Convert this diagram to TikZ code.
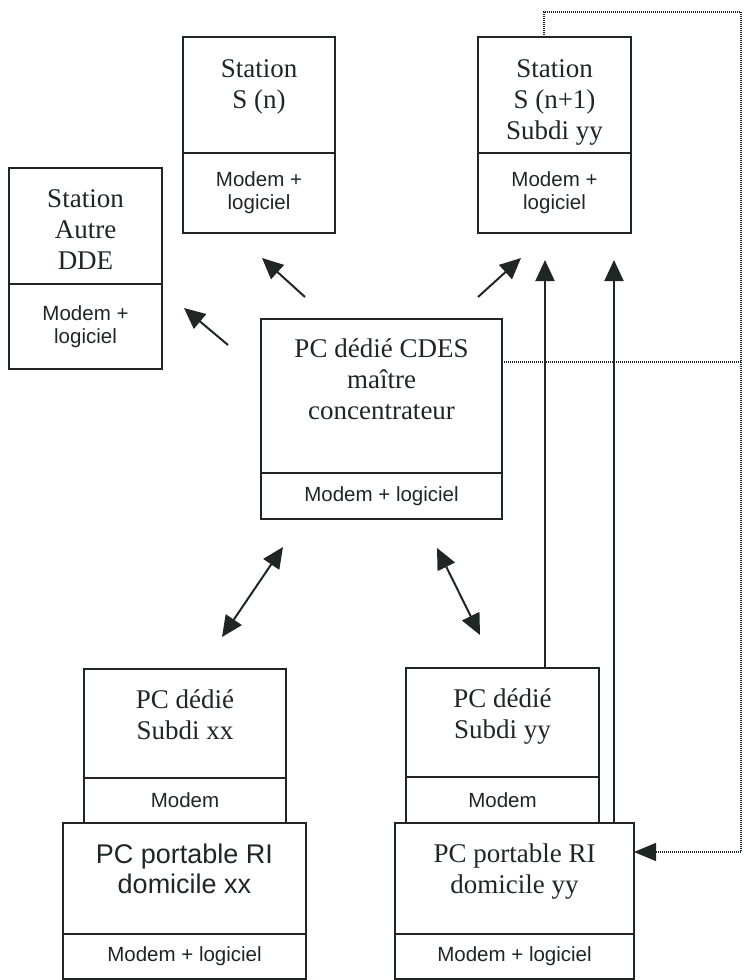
\documentclass[tikz,border=0pt]{standalone}
\usepackage{fontspec}
\setmainfont{Liberation Serif}
\setsansfont{Liberation Sans}
\usetikzlibrary{arrows.meta}
\definecolor{ink}{HTML}{1F2624}

% one compartment of a station box: name, x1, y1, x2, y2, text style, text
\newcommand\cellbox[7]{%
  \node[comp, #6, anchor=north west,
        minimum width={(#4)-(#2)}, minimum height={(#5)-(#3)}] (#1) at (#2,#3) {#7};}

\begin{document}
\begin{tikzpicture}[x=1pt,y=-1pt,
  comp/.style={draw=ink, line width=1.7pt, rectangle, inner sep=0pt, outer sep=0pt,
               align=center, text=ink},
  serif/.style={font=\fontsize{27}{31}\selectfont},
  sans/.style={font=\sffamily\fontsize{20.5}{23}\selectfont},
  sansbig/.style={font=\sffamily\fontsize{27}{30}\selectfont},
  toptext/.style={inner sep=0pt, align=center, text=ink, anchor=north},
  link/.style={draw=ink, line width=2pt, -{Triangle[length=21pt,width=19pt]}},
  both/.style={draw=ink, line width=2pt,
               {Triangle[length=21pt,width=19pt]}-{Triangle[length=21pt,width=19pt]}},
  dots/.style={draw=ink, line width=1.4pt, dash pattern=on 1pt off 1pt},
]
\useasboundingbox (0,0) rectangle (744,980);
\fill[white] (0,0) rectangle (744,980);

% ---- stations ----
\cellbox{sn}{183}{37}{335}{153}{}{}
\cellbox{snm}{183}{153}{335}{233}{sans}{Modem +\\logiciel}
\node[toptext, serif] (snT) at (259,59) {Station\\S (n)};

\cellbox{dde}{9}{168}{162}{284}{}{}
\cellbox{ddem}{9}{284}{162}{369}{sans}{Modem +\\logiciel}
\node[toptext, serif] (ddeT) at (85.5,189) {Station\\Autre\\DDE};

\cellbox{snp}{478}{37}{631}{153}{}{}
\cellbox{snpm}{478}{153}{631}{233}{sans}{Modem +\\logiciel}
\node[toptext, serif] (snpT) at (554.5,59) {Station\\S (n+1)\\Subdi yy};

% ---- master concentrator ----
\cellbox{cdes}{261}{319}{502}{473}{}{}
\cellbox{cdesm}{261}{473}{502}{519}{sans}{Modem + logiciel}
\node[toptext, serif] (cdesT) at (381.5,339) {PC dédié CDES\\maître\\concentrateur};

% ---- subdivision PCs and laptops ----
\cellbox{dxx}{84}{669}{286}{778}{}{}
\cellbox{dxxm}{84}{778}{286}{823}{sans}{Modem}
\node[toptext, serif] (dxxT) at (185,689.5) {PC dédié\\Subdi xx};

\cellbox{pxx}{63}{823}{306}{934}{}{}
\cellbox{pxxm}{63}{934}{306}{979}{sans}{Modem + logiciel}
\node[toptext, sansbig] (pxxT) at (184.5,843.7) {PC portable RI\\domicile xx};

\cellbox{dyy}{406}{668}{599}{777}{}{}
\cellbox{dyym}{406}{777}{599}{823}{sans}{Modem}
\node[toptext, serif] (dyyT) at (502.5,689) {PC dédié\\Subdi yy};

\cellbox{pyy}{395}{823}{634}{934}{}{}
\cellbox{pyym}{395}{934}{634}{979}{sans}{Modem + logiciel}
\node[toptext, serif] (pyyT) at (514.5,843.6) {PC portable RI\\domicile yy};

% ---- free ends of the short arrows ----
\coordinate (a1s) at (305,297);  \coordinate (a1e) at (262,258);
\coordinate (a2s) at (228,345);  \coordinate (a2e) at (184,308);
\coordinate (a3s) at (478,297);  \coordinate (a3e) at (521,258);
\coordinate (d1s) at (283,547);  \coordinate (d1e) at (222,637);
\coordinate (d2s) at (437,548);  \coordinate (d2e) at (480,635);
\coordinate (v1) at (545,260);
\coordinate (v2) at (614,260);

\draw[link] (a1s) -- (a1e);
\draw[link] (a2s) -- (a2e);
\draw[link] (a3s) -- (a3e);
\draw[both] (d1s) -- (d1e);
\draw[both] (d2s) -- (d2e);
\draw[link] (v1 |- dyy.north) -- (v1);
\draw[link] (v2 |- pyy.north) -- (v2);

% ---- dotted return line ----
\coordinate (t0) at (544,12);
\coordinate (t1) at (741,12);
\coordinate (t2) at (741,852);
\coordinate (tc) at (741,362);
\draw[dots] (t0 |- snp.north) -- (t0) -- (t1) -- (t2);
\draw[dots, -{Triangle[length=22pt,width=18pt]}] (t2) -- (pyy.east |- t2);
\draw[dots] (cdes.east |- tc) -- (tc);
\end{tikzpicture}
\end{document}
